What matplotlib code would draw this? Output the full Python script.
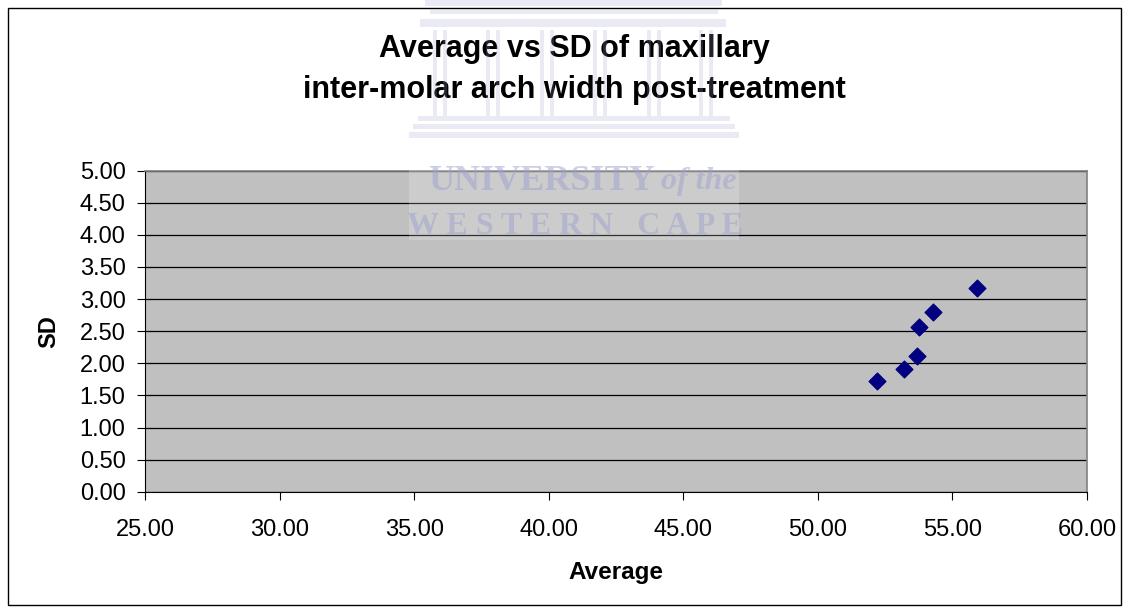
import matplotlib
matplotlib.use("Agg")
import matplotlib.pyplot as plt
from matplotlib.patches import Rectangle

# Data
average = [55.92, 54.27, 53.77, 53.70, 53.19, 52.19]
sd = [3.17, 2.80, 2.57, 2.11, 1.91, 1.72]
title_lines = ["Average vs SD of maxillary", "inter-molar arch width post-treatment"]
x_label = "Average"
y_label = "SD"
x_ticks = [25, 30, 35, 40, 45, 50, 55, 60]
y_ticks = [0, 0.5, 1, 1.5, 2, 2.5, 3, 3.5, 4, 4.5, 5]

plt.rcParams['font.family'] = ['Liberation Sans', 'DejaVu Sans']

W, H = 1129, 613
fig = plt.figure(figsize=(W / 100, H / 100), dpi=100)
fig.patch.set_facecolor('white')

def fx(px):
    return px / W

def fy(py):
    return 1 - py / H

# outer chart border
fig.patches.append(Rectangle((fx(8), fy(605)), fx(1121) - fx(8), fy(8) - fy(605),
                             transform=fig.transFigure, fill=False, edgecolor='black',
                             linewidth=1.0, zorder=0))

ax = fig.add_axes([fx(145), fy(491.7), fx(1087) - fx(145), fy(170.7) - fy(491.7)])
ax.set_facecolor('#C0C0C0')
ax.set_xlim(25, 60)
ax.set_ylim(0, 5)
ax.set_xticks(x_ticks)
ax.set_yticks(y_ticks)
ax.set_xticklabels([f"{v:.2f}" for v in x_ticks], fontsize=17)
ax.set_yticklabels([f"{v:.2f}" for v in y_ticks], fontsize=17)
ax.tick_params(direction='out', length=6, width=0.8, color='black')
ax.tick_params(axis='y', pad=8)
ax.tick_params(axis='x', pad=14)
ax.yaxis.grid(True, color='black', linewidth=0.9)
ax.set_axisbelow(True)
for s in ax.spines.values():
    s.set_color('#808080')
    s.set_linewidth(1.2)
ax.spines['left'].set_color('black')
ax.spines['bottom'].set_color('black')
ax.spines['left'].set_linewidth(0.8)
ax.spines['bottom'].set_linewidth(0.8)

ax.scatter(average, sd, marker='D', s=72, color='#000080', edgecolors='#000080', zorder=3)

ax.set_xlabel(x_label, fontsize=17.5, fontweight='bold', labelpad=14)
ax.set_ylabel(y_label, fontsize=17, fontweight='bold', labelpad=14)

fig.text(fx(574), fy(49), title_lines[0], ha='center', va='center',
         fontsize=22, fontweight='bold')
fig.text(fx(574), fy(90), title_lines[1], ha='center', va='center',
         fontsize=22, fontweight='bold')

# watermark (university crest and name)
wm = '#9CA2CC'
def wrect(x0, y0, x1, y1, color=wm, alpha=0.22):
    fig.patches.append(Rectangle((fx(x0), fy(y1)), fx(x1) - fx(x0), fy(y0) - fy(y1),
                                 transform=fig.transFigure, facecolor=color,
                                 edgecolor='none', alpha=alpha, zorder=10))

wrect(409, 168, 739, 240, color='white', alpha=0.2)
wrect(425, 0, 722, 6)
wrect(430, 10, 718, 14)
wrect(420, 19, 726, 27)
for cx in [441, 494, 548, 601, 655, 707]:
    wrect(cx - 8, 30, cx - 4, 116)
    wrect(cx + 2, 30, cx + 6, 116)
wrect(418, 116, 730, 121)
wrect(413, 124, 735, 129)
wrect(409, 132, 739, 138)

fig.text(fx(655), fy(181), "UNIVERSITY", ha='right', va='center', fontsize=26,
         family='Liberation Serif', fontweight='bold', color=wm, alpha=0.5, zorder=11)
fig.text(fx(661), fy(181), "of the", ha='left', va='center', fontsize=23,
         family='Liberation Serif', style='italic', fontweight='bold', color=wm, alpha=0.5,
         zorder=11)
fig.text(fx(575), fy(226), "W E S T E R N   C A P E", ha='center', va='center', fontsize=23,
         family='Liberation Serif', fontweight='bold', color=wm, alpha=0.5, zorder=11)

fig.savefig('out.png', dpi=100)
